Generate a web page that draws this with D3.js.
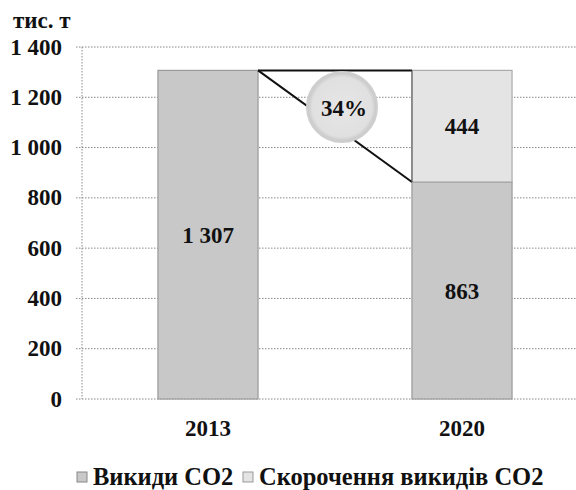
<!DOCTYPE html>
<html><head><meta charset="utf-8">
<script src="https://cdn.jsdelivr.net/npm/d3@7"></script>
<style>body{margin:0;background:#fff}svg{display:block}</style>
</head><body><svg id="c" width="576" height="490" font-family="'Liberation Serif', 'Times New Roman', 'DejaVu Serif', serif" font-weight="bold"></svg>
<script>
const categories = ["2013", "2020"];
const emissions = [1307, 863];
const reduction = [0, 444];
const yTicks = [0, 200, 400, 600, 800, 1000, 1200, 1400];
const tickLabels = ["0", "200", "400", "600", "800", "1 000", "1 200", "1 400"];
const valueLabels = ["1 307", "863", "444"];
const seriesNames = ["Викиди CO2", "Скорочення викидів CO2"];
const unitLabel = "тис. т";
const pctLabel = "34%";

const svg = d3.select("#c");
const FS = 23;
const y = d3.scaleLinear().domain([0, 1400]).range([399, 47]);
const x = d3.scaleBand().domain(categories).range([81, 589]).paddingInner(0.606).paddingOuter(0.303);
const bw = x.bandwidth();

const defs = svg.append("defs");
const rg = defs.append("radialGradient").attr("id", "cg");
rg.append("stop").attr("offset", "0%").attr("stop-color", "#e6e6e6");
rg.append("stop").attr("offset", "85%").attr("stop-color", "#e0e0e0");
rg.append("stop").attr("offset", "100%").attr("stop-color", "#c4c4c4");

// gridlines
svg.append("g").selectAll("line").data(yTicks).join("line")
  .attr("x1", 76).attr("x2", 576).attr("y1", d => y(d)).attr("y2", d => y(d))
  .attr("stroke", "#888").attr("stroke-width", 1).attr("stroke-dasharray", "1.5,1.5");
svg.append("line").attr("x1", 82).attr("x2", 82).attr("y1", y(1400)).attr("y2", y(0))
  .attr("stroke", "#888").attr("stroke-dasharray", "1.5,1.5");

// tick labels
svg.append("g").selectAll("text").data(yTicks).join("text")
  .attr("x", 62).attr("y", d => y(d) + 7.5).attr("text-anchor", "end")
  .attr("font-size", FS).attr("fill", "#111").text((d, i) => tickLabels[i]);
svg.append("text").attr("x", 13).attr("y", 28).attr("font-size", FS).attr("fill", "#111").text(unitLabel);

// bars
const g = svg.append("g");
categories.forEach((c, i) => {
  g.append("rect").attr("x", x(c)).attr("width", bw)
    .attr("y", y(emissions[i])).attr("height", y(0) - y(emissions[i]))
    .attr("fill", "#c8c8c8").attr("stroke", "#999").attr("stroke-width", 1.2);
  if (reduction[i] > 0) {
    g.append("rect").attr("x", x(c)).attr("width", bw)
      .attr("y", y(emissions[i] + reduction[i])).attr("height", y(emissions[i]) - y(emissions[i] + reduction[i]))
      .attr("fill", "#e4e4e4").attr("stroke", "#aaa").attr("stroke-width", 1.2);
  }
});

// connectors
const x0 = x("2013") + bw, x1 = x("2020");
svg.append("line").attr("x1", x0).attr("x2", x1).attr("y1", y(emissions[0])).attr("y2", y(emissions[0]))
  .attr("stroke", "#111").attr("stroke-width", 2);
svg.append("line").attr("x1", x0).attr("x2", x1).attr("y1", y(emissions[0])).attr("y2", y(emissions[1]))
  .attr("stroke", "#111").attr("stroke-width", 2);
svg.append("line").attr("x1", x1).attr("x2", x1).attr("y1", y(emissions[0])).attr("y2", y(emissions[1]))
  .attr("stroke", "#555").attr("stroke-width", 1);

// circle
svg.append("circle").attr("cx", 342).attr("cy", 107).attr("r", 35)
  .attr("fill", "url(#cg)").attr("stroke", "#cfcfcf").attr("stroke-width", 2);
svg.append("text").attr("x", 344).attr("y", 116).attr("text-anchor", "middle").attr("font-size", FS).attr("fill", "#111").text(pctLabel);

// value labels
svg.append("text").attr("x", x("2013") + bw / 2).attr("y", y(emissions[0] / 2) + 8)
  .attr("text-anchor", "middle").attr("font-size", FS).attr("fill", "#111").text(valueLabels[0]);
svg.append("text").attr("x", x("2020") + bw / 2).attr("y", y(emissions[1] / 2) + 8)
  .attr("text-anchor", "middle").attr("font-size", FS).attr("fill", "#111").text(valueLabels[1]);
svg.append("text").attr("x", x("2020") + bw / 2).attr("y", y(emissions[1] + reduction[1] / 2) + 8)
  .attr("text-anchor", "middle").attr("font-size", FS).attr("fill", "#111").text(valueLabels[2]);

// category labels
svg.append("g").selectAll("text").data(categories).join("text")
  .attr("x", d => x(d) + bw / 2).attr("y", 436).attr("text-anchor", "middle")
  .attr("font-size", FS).attr("fill", "#111").text(d => d);

// legend
const leg = [{x: 77, fill: "#c8c8c8", stroke: "#888"}, {x: 243, fill: "#e4e4e4", stroke: "#999"}];
leg.forEach((l, i) => {
  svg.append("rect").attr("x", l.x).attr("y", 472).attr("width", 10).attr("height", 10)
    .attr("fill", l.fill).attr("stroke", l.stroke);
  svg.append("text").attr("x", l.x + 16).attr("y", 485).attr("font-size", 24.5).attr("fill", "#111").text(seriesNames[i]);
});
</script></body></html>
